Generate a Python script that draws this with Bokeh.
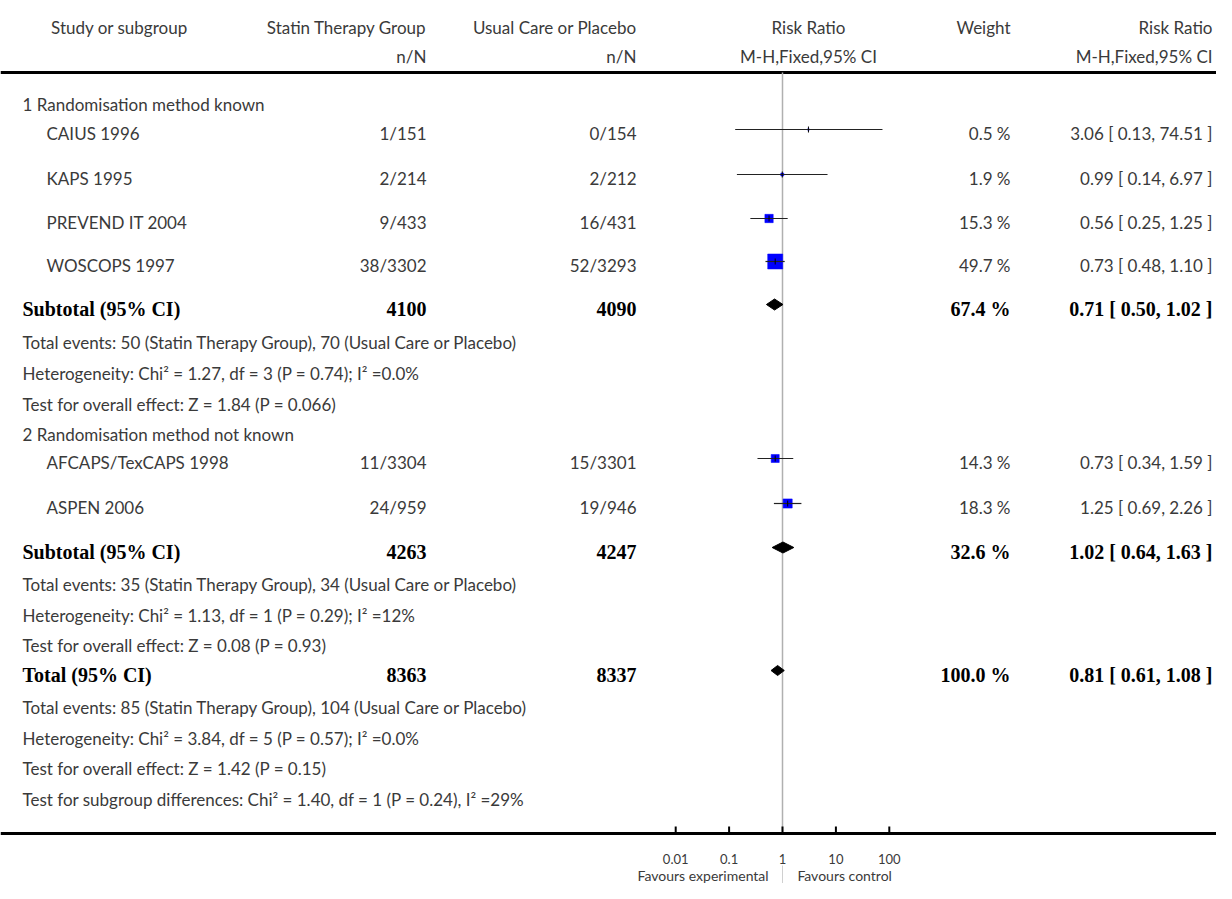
import math
from bokeh.plotting import figure
from bokeh.models import Range1d, LogScale, ColumnDataSource
from bokeh.core.properties import value
from bokeh.embed import file_html
from bokeh.resources import INLINE

# ---------------- data ----------------
studies = ["CAIUS 1996", "KAPS 1995", "PREVEND IT 2004", "WOSCOPS 1997",
           "AFCAPS/TexCAPS 1998", "ASPEN 2006"]
treat_nN = ["1/151", "2/214", "9/433", "38/3302", "11/3304", "24/959"]
ctrl_nN = ["0/154", "2/212", "16/431", "52/3293", "15/3301", "19/946"]
rr = [3.06, 0.99, 0.56, 0.73, 0.73, 1.25]
rr_lo = [0.13, 0.14, 0.25, 0.48, 0.34, 0.69]
rr_hi = [74.51, 6.97, 1.25, 1.10, 1.59, 2.26]
weight = [0.5, 1.9, 15.3, 49.7, 14.3, 18.3]

groups = ["1 Randomisation method known", "2 Randomisation method not known"]

pooled_labels = ["Subtotal (95% CI)", "Subtotal (95% CI)", "Total (95% CI)"]
pooled_treat_N = [4100, 4263, 8363]
pooled_ctrl_N = [4090, 4247, 8337]
pooled_weight = [67.4, 32.6, 100.0]
pooled_rr = [0.71, 1.02, 0.81]
pooled_lo = [0.50, 0.64, 0.61]
pooled_hi = [1.02, 1.63, 1.08]

info_lines = [
    "Total events: 50 (Statin Therapy Group), 70 (Usual Care or Placebo)",
    "Heterogeneity: Chi\u00b2 = 1.27, df = 3 (P = 0.74); I\u00b2 =0.0%",
    "Test for overall effect: Z = 1.84 (P = 0.066)",
    "Total events: 35 (Statin Therapy Group), 34 (Usual Care or Placebo)",
    "Heterogeneity: Chi\u00b2 = 1.13, df = 1 (P = 0.29); I\u00b2 =12%",
    "Test for overall effect: Z = 0.08 (P = 0.93)",
    "Total events: 85 (Statin Therapy Group), 104 (Usual Care or Placebo)",
    "Heterogeneity: Chi\u00b2 = 3.84, df = 5 (P = 0.57); I\u00b2 =0.0%",
    "Test for overall effect: Z = 1.42 (P = 0.15)",
    "Test for subgroup differences: Chi\u00b2 = 1.40, df = 1 (P = 0.24), I\u00b2 =29%",
]

ticks = [0.01, 0.1, 1, 10, 100]
tick_labels = ["0.01", "0.1", "1", "10", "100"]

# ---------------- layout (pixel units) ----------------
study_y = [133, 178, 222, 265, 462, 507]
group_y = [104, 434]
pooled_y = [308, 551, 674]
info_y = [342, 373, 404, 584, 615, 645, 707, 738, 768, 799]
MARK_DY = -4
HEAD_LINE_Y = 72
AXIS_Y = 833
TICK_LABEL_Y = 858
FAVOURS_Y = 875

W, H = 1216, 883
X_STUDY, X_GROUP = 46, 22
X_TREAT, X_CTRL = 426, 636
X_WEIGHT, X_RRTXT = 1010, 1212
PX_ONE, PX_DECADE = 782, 53.4

FONT = value("Lato")
SERIF = value("Liberation Serif")
TXT = "#3a3a3a"
FS = "17px"

p = figure(width=W, height=H, x_range=Range1d(0, W), y_range=Range1d(H, 0),
           output_backend="svg", toolbar_location=None, min_border=0,
           outline_line_color=None, background_fill_color="white")
p.axis.visible = False
p.grid.visible = False
lo_dec = -PX_ONE / PX_DECADE
hi_dec = (W - PX_ONE) / PX_DECADE
p.extra_x_ranges = {"rr": Range1d(10 ** lo_dec, 10 ** hi_dec)}
p.extra_x_scales = {"rr": LogScale()}


def txt(xs, ys, texts, align="left", font=FONT, size=FS, color=TXT, bold=False, rng=None):
    kw = {}
    if rng:
        kw["x_range_name"] = rng
    p.text(x=xs, y=ys, text=texts, text_align=align, text_baseline="middle",
           text_font=font, text_font_size=size, text_color=color,
           text_font_style="bold" if bold else "normal", **kw)


# headers
txt([119], [27], ["Study or subgroup"], "center")
txt([X_TREAT, X_CTRL], [27, 27], ["Statin Therapy Group", "Usual Care or Placebo"], "right")
txt([X_TREAT, X_CTRL], [56, 56], ["n/N", "n/N"], "right")
txt([808, 808], [27, 56], ["Risk Ratio", "M-H,Fixed,95% CI"], "center")
txt([X_WEIGHT], [27], ["Weight"], "right")
txt([X_RRTXT, X_RRTXT], [27, 56], ["Risk Ratio", "M-H,Fixed,95% CI"], "right")

# thick rules
p.segment(x0=[0, 0], x1=[W, W], y0=[HEAD_LINE_Y, AXIS_Y], y1=[HEAD_LINE_Y, AXIS_Y],
          line_color="black", line_width=3)

# groups, studies
txt([X_GROUP] * len(groups), group_y, groups, "left")
txt([X_STUDY] * len(studies), study_y, studies, "left")
txt([X_TREAT] * len(studies), study_y, treat_nN, "right")
txt([X_CTRL] * len(studies), study_y, ctrl_nN, "right")
txt([X_WEIGHT] * len(studies), study_y, [f"{w:.1f} %" for w in weight], "right")
txt([X_RRTXT] * len(studies), study_y,
    [f"{r:.2f} [ {a:.2f}, {b:.2f} ]" for r, a, b in zip(rr, rr_lo, rr_hi)], "right")

# pooled rows
bold_kw = dict(font=SERIF, size="20px", color="black", bold=True)
txt([X_GROUP] * 3, pooled_y, pooled_labels, "left", **bold_kw)
txt([X_TREAT] * 3, pooled_y, [str(v) for v in pooled_treat_N], "right", **bold_kw)
txt([X_CTRL] * 3, pooled_y, [str(v) for v in pooled_ctrl_N], "right", **bold_kw)
txt([X_WEIGHT] * 3, pooled_y, [f"{w:.1f} %" for w in pooled_weight], "right", **bold_kw)
txt([X_RRTXT] * 3, pooled_y,
    [f"{r:.2f} [ {a:.2f}, {b:.2f} ]" for r, a, b in zip(pooled_rr, pooled_lo, pooled_hi)],
    "right", **bold_kw)

# info lines
txt([X_GROUP] * len(info_lines), info_y, info_lines, "left")

# reference line at RR = 1
p.segment(x0=[1], x1=[1], y0=[HEAD_LINE_Y], y1=[AXIS_Y - 2], x_range_name="rr",
          line_color="#b0b0b0", line_width=1.5)
p.segment(x0=[1], x1=[1], y0=[TICK_LABEL_Y + 7], y1=[H], x_range_name="rr",
          line_color="#d0d0d0", line_width=1)

# study CIs, squares, point ticks
mark_y = [y + MARK_DY for y in study_y]
src = ColumnDataSource(dict(rr=rr, lo=rr_lo, hi=rr_hi, y=mark_y,
                            size=[2.13 * math.sqrt(w) for w in weight]))
p.scatter(x="rr", y="y", size="size", marker="square", source=src, x_range_name="rr",
          fill_color="#0000ff", line_color="#0000ff", line_width=0.5)
p.segment(x0="lo", x1="hi", y0="y", y1="y", source=src, x_range_name="rr",
          line_color="#222222", line_width=1.2)
p.scatter(x="rr", y="y", size=6, marker="dash", angle=math.pi / 2, source=src,
          x_range_name="rr", line_color="black", line_width=1)

# pooled diamonds
dh = [5.5, 5.5, 5]
xs = [[a, r, b, r] for r, a, b in zip(pooled_rr, pooled_lo, pooled_hi)]
ys = [[y + MARK_DY, y + MARK_DY - h, y + MARK_DY, y + MARK_DY + h] for y, h in zip(pooled_y, dh)]
p.patches(xs=xs, ys=ys, x_range_name="rr", fill_color="black", line_color="black",
          line_width=1)

# axis ticks and labels
p.segment(x0=ticks, x1=ticks, y0=[AXIS_Y - 7] * 5, y1=[AXIS_Y] * 5, x_range_name="rr",
          line_color="black", line_width=2)
txt(ticks, [TICK_LABEL_Y] * 5, tick_labels, "center", size="13px", rng="rr")
txt([0.55], [FAVOURS_Y], ["Favours experimental"], "right", size="14px", rng="rr")
txt([1.9], [FAVOURS_Y], ["Favours control"], "left", size="14px", rng="rr")

open("out.html", "w").write(file_html(p, INLINE))
